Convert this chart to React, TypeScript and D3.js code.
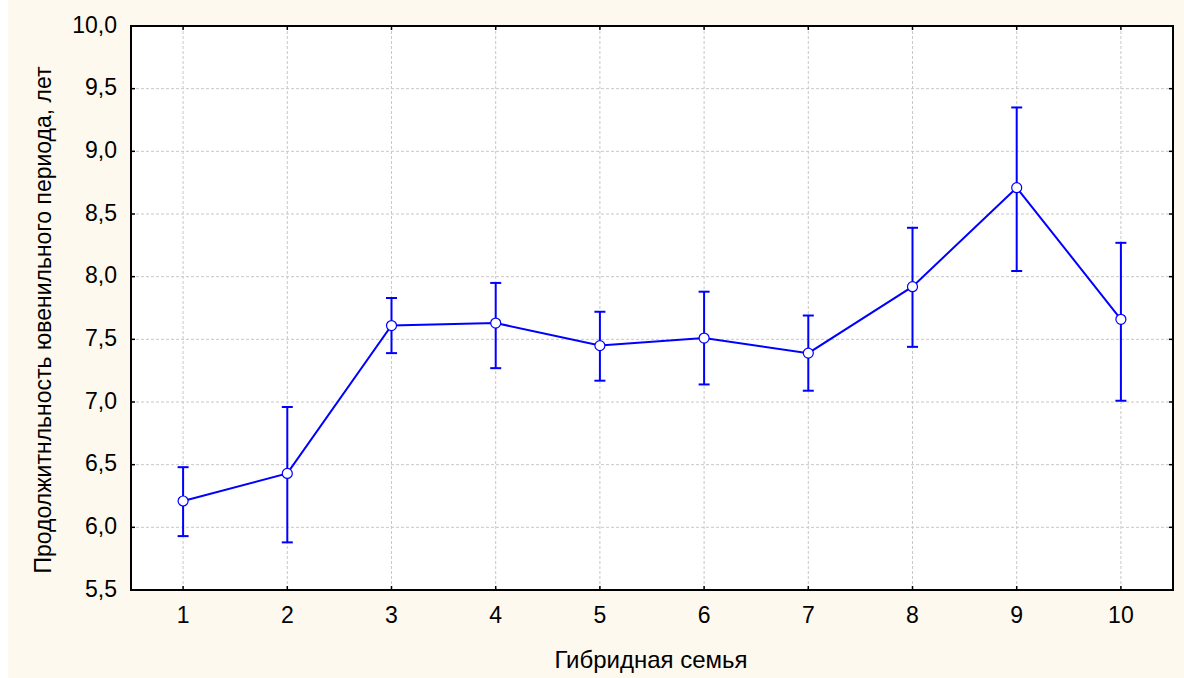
import React from 'react';
import * as d3 from 'd3';

// hybrid families and juvenile period (mean with error bounds), years
const families = [1, 2, 3, 4, 5, 6, 7, 8, 9, 10];
const means = [6.21, 6.43, 7.61, 7.63, 7.45, 7.51, 7.39, 7.92, 8.71, 7.66];
const upper = [6.48, 6.96, 7.83, 7.95, 7.72, 7.88, 7.69, 8.39, 9.35, 8.27];
const lower = [5.93, 5.88, 7.39, 7.27, 7.17, 7.14, 7.09, 7.44, 8.045, 7.01];
const yTicks = [5.5, 6.0, 6.5, 7.0, 7.5, 8.0, 8.5, 9.0, 9.5, 10.0];

const W = 1184;
const H = 678;
const left = 131;
const right = 1173;
const top = 26;
const bottom = 590;

const fmt = (v: number) => v.toFixed(1).replace('.', ',');

export default function App() {
  const x = d3.scaleLinear().domain([0.5, 10.5]).range([left, right]);
  const y = d3.scaleLinear().domain([5.5, 10]).range([bottom, top]);

  const line = d3.line<number>()
    .x((_, i) => x(families[i]))
    .y(d => y(d));

  const font = 'Arial, "Liberation Sans", sans-serif';
  const blue = '#0000ff';
  const grid = '#c8c8c8';

  return (
    <svg width={W} height={H} style={{ position: 'absolute', left: 0, top: 0, background: '#fff' }}>
      <rect x={8} y={0} width={W - 8} height={H} fill="#fef9ee" />
      <rect x={left} y={top} width={right - left} height={bottom - top} fill="#fff" />

      {/* grid */}
      {families.map(f => (
        <line key={'gx' + f} x1={x(f)} x2={x(f)} y1={top} y2={bottom}
          stroke={grid} strokeDasharray="3,2" />
      ))}
      {yTicks.slice(1, -1).map(t => (
        <line key={'gy' + t} x1={left} x2={right} y1={y(t)} y2={y(t)}
          stroke={grid} strokeDasharray="3,2" />
      ))}

      {/* ticks on all four sides */}
      {families.map(f => (
        <g key={'tx' + f} stroke="#000" strokeWidth={1.5}>
          <line x1={x(f)} x2={x(f)} y1={bottom} y2={bottom - 4} />
          <line x1={x(f)} x2={x(f)} y1={top} y2={top + 4} />
        </g>
      ))}
      {yTicks.map(t => (
        <g key={'ty' + t} stroke="#000" strokeWidth={1.5}>
          <line x1={left} x2={left + 4} y1={y(t)} y2={y(t)} />
          <line x1={right} x2={right - 4} y1={y(t)} y2={y(t)} />
        </g>
      ))}

      <rect x={left} y={top} width={right - left} height={bottom - top}
        fill="none" stroke="#000" strokeWidth={2} />

      {/* error bars */}
      {families.map((f, i) => (
        <g key={'e' + f} stroke={blue} strokeWidth={2}>
          <line x1={x(f)} x2={x(f)} y1={y(upper[i])} y2={y(lower[i])} />
          <line x1={x(f) - 5.5} x2={x(f) + 5.5} y1={y(upper[i])} y2={y(upper[i])} />
          <line x1={x(f) - 5.5} x2={x(f) + 5.5} y1={y(lower[i])} y2={y(lower[i])} />
        </g>
      ))}

      <path d={line(means) || ''} fill="none" stroke={blue} strokeWidth={2} />
      {means.map((m, i) => (
        <circle key={'c' + i} cx={x(families[i])} cy={y(m)} r={5}
          fill="#fff" stroke={blue} strokeWidth={1.2} />
      ))}

      {/* tick labels */}
      {yTicks.map(t => (
        <text key={'ly' + t} x={117} y={y(t) + 6.5} textAnchor="end"
          fontFamily={font} fontSize={23} fill="#000">{fmt(t)}</text>
      ))}
      {families.map(f => (
        <text key={'lx' + f} x={x(f)} y={623} textAnchor="middle"
          fontFamily={font} fontSize={23} fill="#000">{f}</text>
      ))}

      <text x={651} y={668} textAnchor="middle"
        fontFamily={font} fontSize={24} fill="#000">Гибридная семья</text>
      <text transform={`translate(51,320) rotate(-90)`} textAnchor="middle"
        fontFamily={font} fontSize={23} fill="#000">Продолжитнльность ювенильного периода, лет</text>
    </svg>
  );
}
